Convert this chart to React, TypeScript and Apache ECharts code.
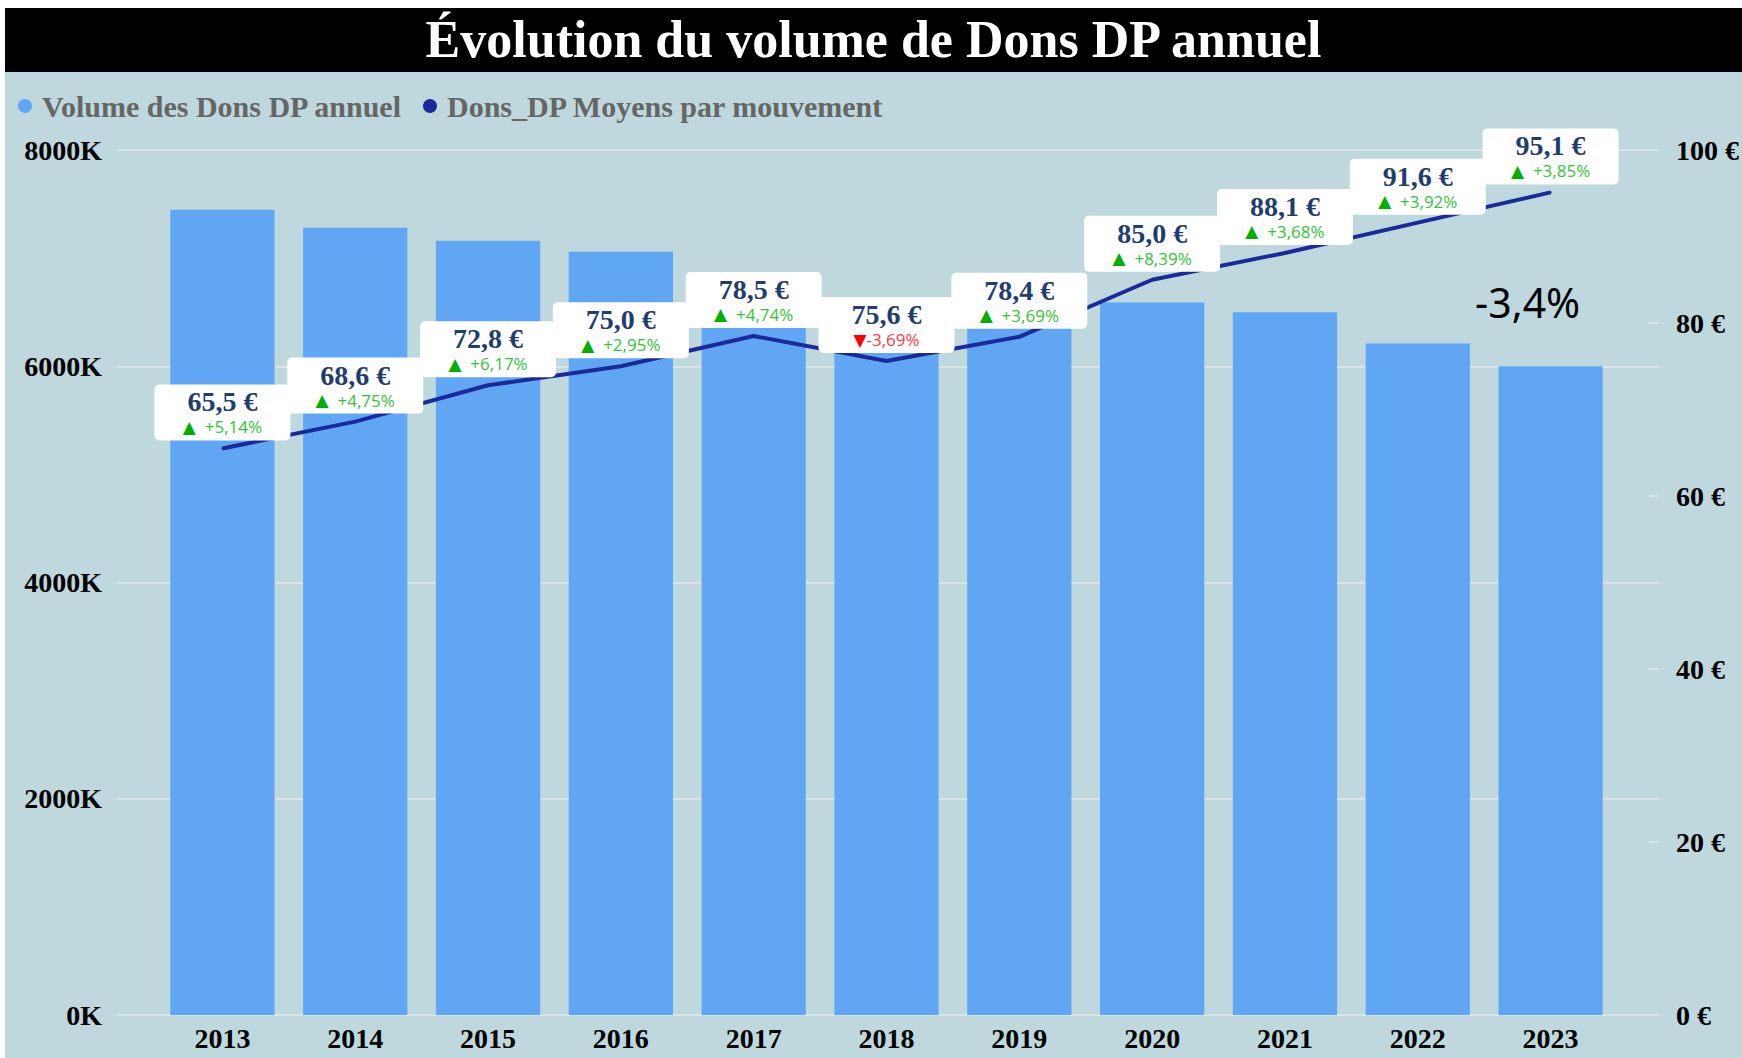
import React, { useEffect, useRef } from "react";
import * as echarts from "echarts";

const years = ["2013", "2014", "2015", "2016", "2017", "2018", "2019", "2020", "2021", "2022", "2023"];
// Volume des Dons DP annuel, in thousands
const volumeK = [7447, 7280, 7160, 7060, 6820, 6600, 6620, 6590, 6500, 6210, 6000];
// Dons_DP moyens par mouvement, in euros
const avgDon = [65.5, 68.6, 72.8, 75.0, 78.5, 75.6, 78.4, 85.0, 88.1, 91.6, 95.1];
// Year-on-year change of the average, in %
const avgChangePct = [5.14, 4.75, 6.17, 2.95, 4.74, -3.69, 3.69, 8.39, 3.68, 3.92, 3.85];
const lastVolumeChange = "-3,4%";

const titleText = "Évolution du volume de Dons DP annuel";
const seriesNames = ["Volume des Dons DP annuel", "Dons_DP Moyens par mouvement"];

const SERIF = '"Liberation Serif", "Times New Roman", serif';
const BAR_COLOR = "#61a6f3";
const LINE_COLOR = "#1a2a9a";
const GRID_COLOR = "#d5e5e8";

const fmt1 = (v: number) => v.toFixed(1).replace(".", ",");
const fmtPct = (v: number) => (v >= 0 ? "+" : "") + v.toFixed(2).replace(".", ",");

export default function App() {
  const ref = useRef<HTMLDivElement>(null);

  useEffect(() => {
    document.body.style.margin = "0";
    if (!ref.current) return;
    const chart = echarts.init(ref.current, undefined, { renderer: "svg" });
    const last = volumeK.length - 1;

    const axisLabelStyle = {
      fontFamily: SERIF,
      fontWeight: "bold" as const,
      fontSize: 28,
      color: "#000",
    };
    const legendText = {
      fontFamily: SERIF,
      fontWeight: "bold" as const,
      fontSize: 30,
      color: "#666",
      lineHeight: 30,
    };

    chart.setOption({
      animation: false,
      backgroundColor: "#bed8dd",
      graphic: [
        {
          type: "rect",
          left: 0,
          top: 0,
          silent: true,
          z: 0,
          shape: { width: 1737, height: 64 },
          style: { fill: "#000" },
        },
      ],
      title: {
        text: titleText,
        left: "center",
        top: 3,
        padding: 0,
        z: 6,
        textStyle: {
          color: "#fff",
          fontFamily: SERIF,
          fontWeight: "bold",
          fontSize: 52,
          lineHeight: 56,
        },
      },
      legend: [
        {
          data: [seriesNames[0]],
          left: 13,
          top: 83,
          padding: 0,
          icon: "circle",
          itemWidth: 24,
          itemHeight: 14,
          textStyle: legendText,
        },
        {
          data: [seriesNames[1]],
          left: 418,
          top: 83,
          padding: 0,
          icon: "circle",
          itemWidth: 24,
          itemHeight: 14,
          textStyle: legendText,
        },
      ],
      grid: [
        { left: 112, right: 82, top: 142, bottom: 43 },
        { left: 151, right: 125, top: 142, bottom: 43 },
      ],
      xAxis: [
        { gridIndex: 0, type: "value", show: false, min: 0, max: 1 },
        {
          gridIndex: 1,
          type: "category",
          data: years,
          axisLine: { show: false },
          axisTick: { show: false },
          axisLabel: { ...axisLabelStyle, margin: 9 },
        },
      ],
      yAxis: [
        {
          gridIndex: 0,
          type: "value",
          position: "left",
          min: 0,
          max: 8000,
          interval: 2000,
          axisLine: { show: false },
          axisTick: { show: false },
          axisLabel: { ...axisLabelStyle, margin: 15, formatter: (v: number) => `${v}K` },
          splitLine: { show: true, lineStyle: { color: GRID_COLOR, width: 2 } },
        },
        {
          gridIndex: 0,
          type: "value",
          position: "right",
          min: 0,
          max: 100,
          interval: 20,
          axisLine: { show: false },
          axisTick: { show: true, inside: true, length: 10, lineStyle: { color: GRID_COLOR, width: 2 } },
          axisLabel: { ...axisLabelStyle, margin: 17, formatter: (v: number) => `${v} €` },
          splitLine: { show: false },
        },
        { gridIndex: 1, type: "value", min: 0, max: 8000, show: false },
        { gridIndex: 1, type: "value", min: 0, max: 100, show: false },
      ],
      series: [
        {
          name: seriesNames[0],
          type: "bar",
          xAxisIndex: 1,
          yAxisIndex: 2,
          barWidth: "78.5%",
          itemStyle: { color: BAR_COLOR },
          z: 2,
          data: volumeK.map((v, i) =>
            i === last
              ? {
                  value: v,
                  label: {
                    show: true,
                    position: "top",
                    distance: 40,
                    offset: [-23, 0],
                    formatter: lastVolumeChange,
                    fontFamily: '"Noto Sans", "Open Sans", sans-serif',
                    fontSize: 41,
                    color: "#000",
                    lineHeight: 48,
                  },
                }
              : v
          ),
        },
        {
          name: seriesNames[1],
          type: "line",
          xAxisIndex: 1,
          yAxisIndex: 3,
          data: avgDon,
          symbol: "circle",
          symbolSize: 2,
          z: 3,
          lineStyle: { color: LINE_COLOR, width: 4 },
          itemStyle: { color: LINE_COLOR },
          label: {
            show: true,
            position: "top",
            distance: 7,
            backgroundColor: "#fff",
            borderRadius: 5,
            padding: [3, 0, 3, 0],
            width: 136,
            align: "center",
            formatter: (p: any) => {
              const c = avgChangePct[p.dataIndex];
              const head = `{v|${fmt1(p.value)} €}`;
              return c >= 0
                ? `${head}\n{tu|▲}{pu|  ${fmtPct(c)}%}`
                : `${head}\n{td|▼}{pd|${fmtPct(c)}%}`;
            },
            rich: {
              v: { fontFamily: SERIF, fontWeight: "bold", fontSize: 28, color: "#1f3d6d", lineHeight: 29, align: "center" },
              tu: { fontFamily: '"DejaVu Sans", sans-serif', fontSize: 17, color: "#00b000", lineHeight: 21 },
              pu: { fontFamily: '"Open Sans", "Noto Sans", sans-serif', fontSize: 17, color: "#33c43a", lineHeight: 21 },
              td: { fontFamily: '"DejaVu Sans", sans-serif', fontSize: 17, color: "#ff0000", lineHeight: 21 },
              pd: { fontFamily: '"Open Sans", "Noto Sans", sans-serif', fontSize: 17, color: "#ff3a3a", lineHeight: 21 },
            },
          },
        },
      ],
    });

    return () => chart.dispose();
  }, []);

  return (
    <div style={{ position: "relative", width: 1742, height: 1058, background: "#fff", overflow: "hidden" }}>
      <div ref={ref} style={{ position: "absolute", left: 5, top: 8, width: 1737, height: 1050 }} />
    </div>
  );
}
